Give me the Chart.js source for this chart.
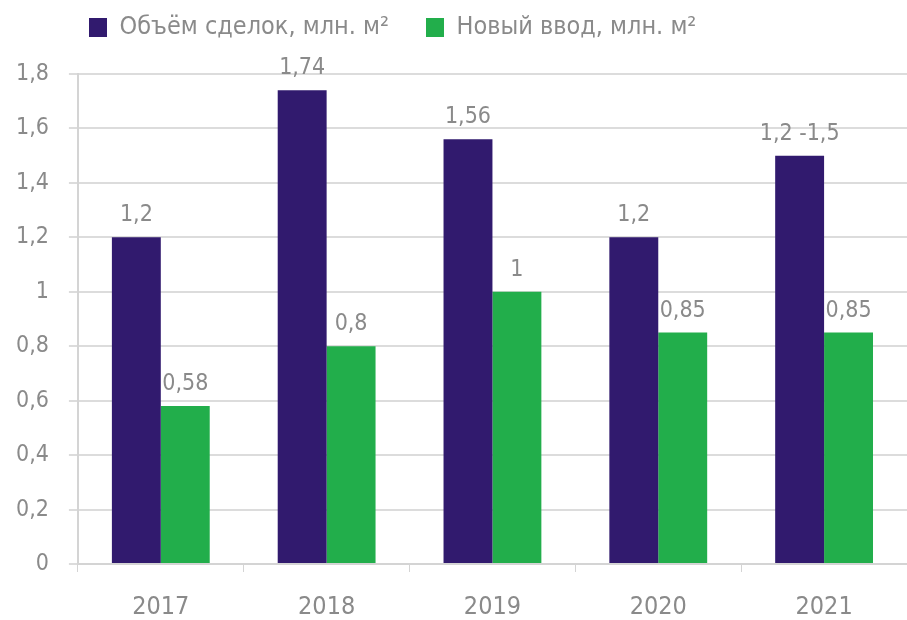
<!DOCTYPE html>
<html>
<head>
<meta charset="utf-8">
<script src="https://cdn.jsdelivr.net/npm/chart.js@4.4.0/dist/chart.umd.min.js"></script>
<style>
  html, body { margin: 0; padding: 0; background: #fff; }
  #wrap { width: 907px; height: 620px; }
</style>
</head>
<body>
<div id="wrap"><canvas id="dealsChart" width="907" height="620"></canvas></div>
<script>
// data
var years        = ['2017', '2018', '2019', '2020', '2021'];
var dealsVolume  = [1.2, 1.74, 1.56, 1.2, 1.5];
var newSupply    = [0.58, 0.8, 1, 0.85, 0.85];
var dealsLabels  = ['1,2', '1,74', '1,56', '1,2', '1,2 -1,5'];
var supplyLabels = ['0,58', '0,8', '1', '0,85', '0,85'];
var seriesNames  = ['Объём сделок, млн. м²', 'Новый ввод, млн. м²'];

var FONT = "'DejaVu Sans Condensed', 'DejaVu Sans', sans-serif";
var GRAY = '#8a8a8a';

// bar value labels, drawn above each bar
var valueLabels = {
    id: 'valueLabels',
    afterDatasetsDraw: function(chart){
        var ctx = chart.ctx;
        var texts = [dealsLabels, supplyLabels];
        ctx.save();
        ctx.font = '23px ' + FONT;
        ctx.fillStyle = GRAY;
        ctx.textAlign = 'center';
        ctx.textBaseline = 'alphabetic';
        chart.data.datasets.forEach(function(ds, i){
            var meta = chart.getDatasetMeta(i);
            meta.data.forEach(function(bar, j){
                ctx.fillText(texts[i][j], bar.x, bar.y - 16);
            });
        });
        ctx.restore();
    }
};

// move legend so it starts over the plot, not at the canvas edge
var legendShift = {
    id: 'legendShift',
    beforeDraw: function(chart){
        chart.legend.left = 52;
        chart.legend.top = -22;
    }
};

var ctx = document.getElementById('dealsChart').getContext('2d');
var myChart = new Chart(ctx, {
    type: 'bar',
    data: {
        labels: years,
        datasets: [{
            label: seriesNames[0],
            data: dealsVolume,
            backgroundColor: '#311a6e',
            categoryPercentage: 0.59,
            barPercentage: 1
        }, {
            label: seriesNames[1],
            data: newSupply,
            backgroundColor: '#22ae4b',
            categoryPercentage: 0.59,
            barPercentage: 1
        }]
    },
    options: {
        responsive: false,
        animation: false,
        layout: { padding: { left: -4, right: 0, top: 2, bottom: -22 } },
        plugins: {
            legend: {
                display: true,
                position: 'top',
                align: 'start',
                labels: {
                    boxWidth: 18,
                    boxHeight: 19,
                    padding: 37,
                    color: GRAY,
                    font: { family: FONT, size: 25 }
                }
            },
            tooltip: { enabled: false }
        },
        scales: {
            x: {
                grid: {
                    display: true,
                    drawOnChartArea: false,
                    drawTicks: true,
                    tickLength: 8,
                    color: '#d4d4d4',
                    offset: true
                },
                border: { color: '#d4d4d4', width: 2 },
                ticks: {
                    color: GRAY,
                    padding: 20,
                    font: { family: FONT, size: 25 }
                }
            },
            y: {
                min: 0,
                max: 1.8,
                grid: {
                    color: '#dcdcdc',
                    lineWidth: 2,
                    tickLength: 9
                },
                border: { color: '#d4d4d4', width: 2 },
                ticks: {
                    stepSize: 0.2,
                    color: GRAY,
                    padding: 20,
                    font: { family: FONT, size: 23 },
                    callback: function(v){
                        return (Math.round(v * 10) / 10).toString().replace('.', ',');
                    }
                }
            }
        }
    },
    plugins: [valueLabels, legendShift]
});
</script>
</body>
</html>
